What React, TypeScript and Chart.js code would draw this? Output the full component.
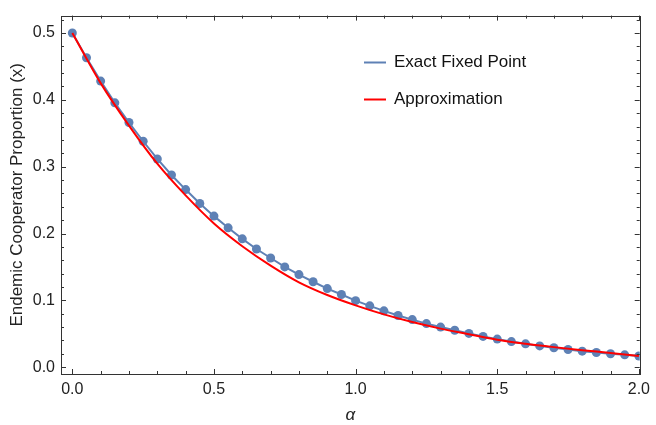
import React, { useEffect, useRef } from "react";
import { Chart, registerables } from "chart.js";

Chart.register(...registerables);

const alphaExact = [
  0, 0.05, 0.1, 0.15, 0.2, 0.25, 0.3, 0.35, 0.4, 0.45, 0.5, 0.55, 0.6, 0.65, 0.7, 0.75, 0.8, 0.85, 0.9, 0.95,
  1.0, 1.05, 1.1, 1.15, 1.2, 1.25, 1.3, 1.35, 1.4, 1.45, 1.5, 1.55, 1.6, 1.65, 1.7, 1.75, 1.8, 1.85, 1.9, 1.95, 2.0,
];
const exactValues = [
  0.5, 0.463, 0.428, 0.3955, 0.366, 0.338, 0.3115, 0.2876, 0.2657, 0.2449, 0.226, 0.2085, 0.192, 0.1768, 0.1633,
  0.15, 0.1385, 0.1278, 0.1176, 0.1088, 0.0995, 0.0918, 0.0843, 0.0774, 0.0712, 0.0652, 0.06, 0.0552, 0.0505,
  0.046, 0.042, 0.0383, 0.0349, 0.0318, 0.029, 0.0264, 0.024, 0.022, 0.0201, 0.0185, 0.0167,
];
const alphaApprox = [0, 0.1, 0.2, 0.3, 0.4, 0.5, 0.6, 0.7, 0.8, 0.9, 1.0, 1.1, 1.2, 1.3, 1.4, 1.5, 1.6, 1.7, 1.8, 1.9, 2.0];
const approxValues = [
  0.5, 0.425, 0.3615, 0.3045, 0.257, 0.215, 0.181, 0.152, 0.127, 0.108, 0.0925, 0.079, 0.0675, 0.0577, 0.0493,
  0.041, 0.035, 0.03, 0.0255, 0.0213, 0.0168,
];
const xMajorTicks = [0, 0.5, 1.0, 1.5, 2.0];
const yMajorTicks = [0, 0.1, 0.2, 0.3, 0.4, 0.5];
const seriesLabels = ["Exact Fixed Point", "Approximation"];

const BLUE = "rgb(94,129,181)";
const RED = "rgb(255,0,0)";
const FONT = "'Liberation Sans', Arial, sans-serif";
const FRAME = "#333";

const framePlugin = {
  id: "frameTicks",
  afterDraw(chart: any) {
    const { ctx, chartArea } = chart;
    const { left, right, top, bottom } = chartArea;
    const xs = chart.scales.x;
    const ys = chart.scales.y;
    ctx.save();
    ctx.strokeStyle = FRAME;
    ctx.lineWidth = 1;
    ctx.strokeRect(Math.round(left) + 0.5, Math.round(top) + 0.5, Math.round(right - left), Math.round(bottom - top));
    for (let i = 0; i <= 20; i++) {
      const v = i / 10;
      const major = i % 5 === 0;
      const len = major ? 5 : 3;
      const px = Math.round(xs.getPixelForValue(v)) + 0.5;
      ctx.beginPath();
      ctx.moveTo(px, bottom);
      ctx.lineTo(px, bottom - len);
      ctx.moveTo(px, top);
      ctx.lineTo(px, top + len);
      ctx.stroke();
    }
    for (let i = 0; i <= 26; i++) {
      const v = i / 50;
      const major = i % 5 === 0;
      const len = major ? 5 : 3;
      const py = Math.round(ys.getPixelForValue(v)) + 0.5;
      if (py < top || py > bottom) continue;
      ctx.beginPath();
      ctx.moveTo(left, py);
      ctx.lineTo(left + len, py);
      ctx.moveTo(right, py);
      ctx.lineTo(right - len, py);
      ctx.stroke();
    }
    const legendColors = [BLUE, RED];
    const legendY = [62, 99];
    ctx.font = `17px ${FONT}`;
    ctx.textBaseline = "middle";
    ctx.textAlign = "left";
    chart.data.datasets.forEach((ds: any, i: number) => {
      ctx.strokeStyle = legendColors[i];
      ctx.lineWidth = 2;
      ctx.beginPath();
      ctx.moveTo(364, legendY[i] + 0.5);
      ctx.lineTo(386, legendY[i] + 0.5);
      ctx.stroke();
      ctx.fillStyle = "#111";
      ctx.fillText(ds.label, 394, legendY[i]);
    });
    ctx.restore();
  },
};

export default function App() {
  const ref = useRef<HTMLCanvasElement>(null);
  useEffect(() => {
    document.body.style.margin = "0";
    const canvas = ref.current!;
    const chart = new Chart(canvas, {
      type: "scatter",
      data: {
        datasets: [
          {
            label: seriesLabels[0],
            data: alphaExact.map((a, i) => ({ x: a, y: exactValues[i] })),
            showLine: true,
            borderColor: BLUE,
            backgroundColor: BLUE,
            borderWidth: 2,
            pointRadius: 4.5,
            pointBorderWidth: 0,
            order: 2,
          },
          {
            label: seriesLabels[1],
            data: alphaApprox.map((a, i) => ({ x: a, y: approxValues[i] })),
            showLine: true,
            borderColor: RED,
            backgroundColor: RED,
            borderWidth: 2,
            pointRadius: 0,
            cubicInterpolationMode: "monotone",
            order: 1,
          },
        ],
      },
      options: {
        responsive: false,
        animation: false,
        layout: { padding: { left: 0, top: 6, right: 11, bottom: 0 } },
        plugins: { legend: { display: false }, tooltip: { enabled: false } },
        scales: {
          x: {
            type: "linear",
            min: -0.04,
            max: 2.003,
            grid: { display: false, drawTicks: false },
            border: { display: false },
            afterBuildTicks: (s: any) => {
              s.ticks = xMajorTicks.map((v) => ({ value: v }));
            },
            afterFit: (s: any) => {
              s.height = 51;
            },
            ticks: {
              padding: 6,
              color: "#222",
              font: { family: FONT, size: 16 },
              callback: (v: any) => Number(v).toFixed(1),
              maxRotation: 0,
            },
            title: {
              display: true,
              text: "α",
              color: "#222",
              font: { family: FONT, size: 17, style: "italic" },
              padding: { top: 6, bottom: 0 },
            },
          },
          y: {
            type: "linear",
            min: -0.0102,
            max: 0.526,
            grid: { display: false, drawTicks: false },
            border: { display: false },
            afterBuildTicks: (s: any) => {
              s.ticks = yMajorTicks.map((v) => ({ value: v }));
            },
            afterFit: (s: any) => {
              s.width = 61;
            },
            ticks: {
              padding: 6,
              color: "#222",
              font: { family: FONT, size: 16 },
              callback: (v: any) => Number(v).toFixed(1),
            },
            title: {
              display: true,
              text: "Endemic Cooperator Proportion (x)",
              color: "#222",
              font: { family: FONT, size: 17 },
              padding: { top: 7, bottom: 0 },
            },
          },
        },
      },
      plugins: [framePlugin],
    } as any);
    return () => chart.destroy();
  }, []);
  return <canvas ref={ref} width={656} height={425} style={{ display: "block" }} />;
}
